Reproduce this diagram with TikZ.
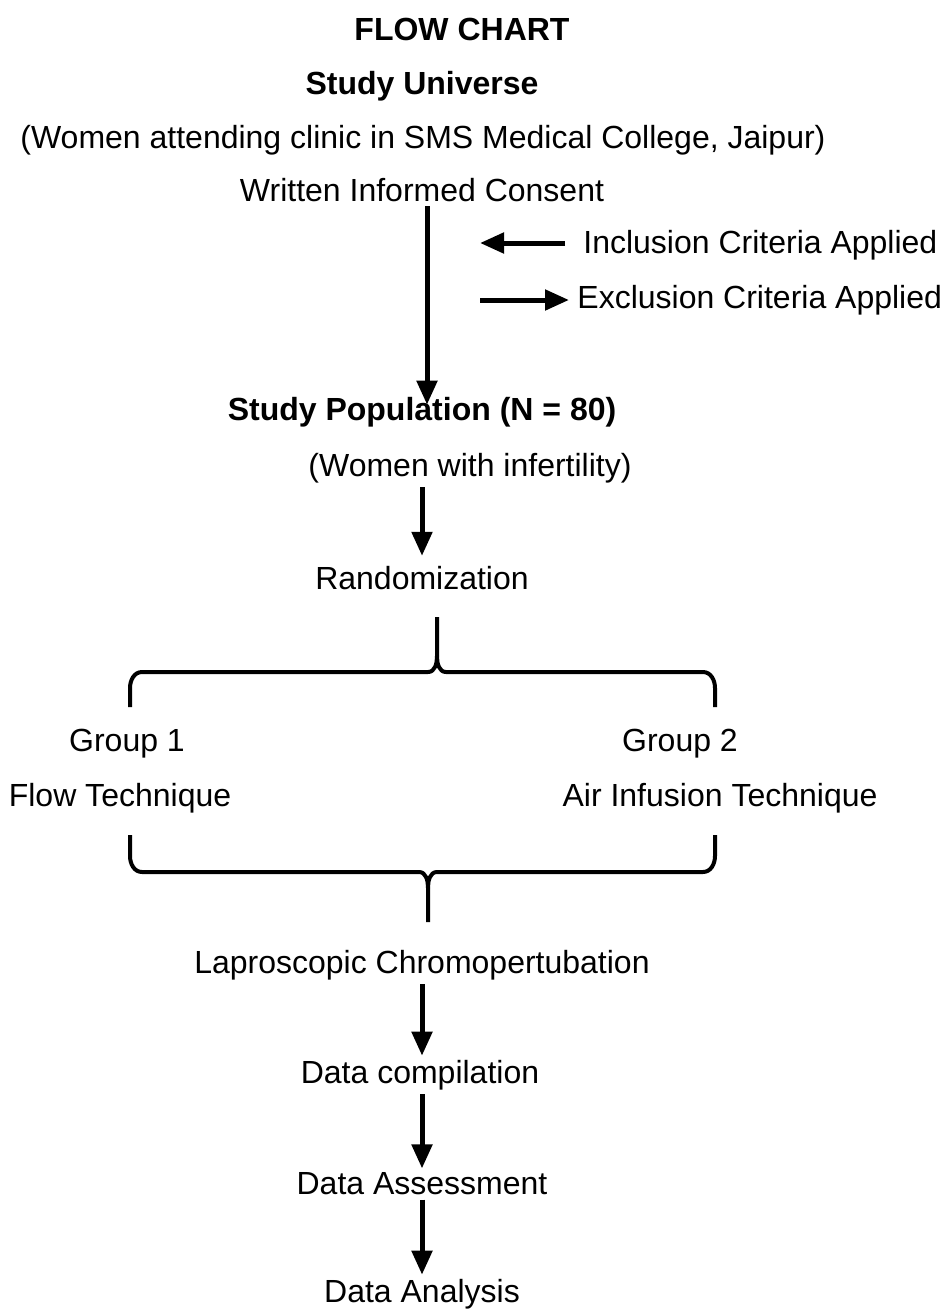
\documentclass[tikz,border=0pt]{standalone}
\usepackage{fontspec}
\setmainfont{Liberation Sans}
\usetikzlibrary{arrows.meta, positioning}

\begin{document}
\begin{tikzpicture}[x=0.5pt, y=-0.5pt,
			every node/.style={font=\fontsize{16}{19}\selectfont, inner sep=2pt},
			head/.style={font=\fontsize{16}{19}\selectfont\bfseries},
			arrow/.style={-{Triangle[width=10pt, length=12pt]}, line width=2.5pt},
			brace/.style={line width=2pt, line join=round},
			]
			\useasboundingbox (0,0) rectangle (943,1311);
			
			\node[head] (flow) at (462,29) {FLOW CHART};
			\node[head] (universe) at (422,86) {Study Universe};
			\node (clinic) at (423,140) {(Women attending clinic in SMS Medical College, Jaipur)};
			\node (consent) at (422,190) {Written Informed Consent};
			
			\node[anchor=west] (incl) at (579,245) {Inclusion Criteria Applied};
			\node[anchor=west] (excl) at (573,300) {Exclusion Criteria Applied};
			\coordinate (inclend) at (480,243);
			\coordinate (exclstart) at (480,300);
			
			\node[head] (studypop) at (422,412) {Study Population (N = 80)};
			\node (infert) at (470,468) {(Women with infertility)};
			\node (random) at (422,578) {Randomization};
			
			\node (group1) at (127,744) {Group 1};
			\node (group2) at (680,744) {Group 2};
			\node (flowtech) at (120,798) {Flow Technique};
			\node (airtech) at (720,798) {Air Infusion Technique};
			
			\node (lapro) at (422,965) {Laproscopic Chromopertubation};
			\node (compile) at (420,1075) {Data compilation};
			\node (assess) at (422,1184) {Data Assessment};
			\node (analysis) at (422,1294) {Data Analysis};
			
			% braces
			\coordinate (topstem) at (437,617);
			\coordinate (botstem) at (428,922);
			\draw[brace] (130,707) -- (130,688) to[out=90,in=180] (142,672) -- (428,672)
				to[out=0,in=-90] (437,656) -- (topstem);
			\draw[brace] (437,656) to[out=-90,in=180] (446,672) -- (703,672)
				to[out=0,in=90] (715,688) -- (715,707);
			\draw[brace] (130,835) -- (130,856) to[out=-90,in=180] (142,872) -- (419,872)
				to[out=0,in=90] (428,888) -- (botstem);
			\draw[brace] (428,888) to[out=90,in=180] (437,872) -- (703,872)
				to[out=0,in=-90] (715,856) -- (715,835);
			
			\draw[arrow, shorten >=-6pt] ([xshift=2.5pt]consent.south) -- ([xshift=2.5pt]studypop.north);
			\draw[arrow, shorten <=7pt] (incl.west |- inclend) -- (inclend);
			\draw[arrow, shorten >=2pt] (exclstart) -- (excl.west);
			
			\draw[arrow, shorten >=3pt] (infert.south -| random) -- (random);
			\draw[arrow] (lapro) -- (compile.north -| lapro);
			\draw[arrow] (compile.south -| assess) -- (assess);
			\draw[arrow] (assess) -- (analysis);
			
		\end{tikzpicture}
\end{document}
